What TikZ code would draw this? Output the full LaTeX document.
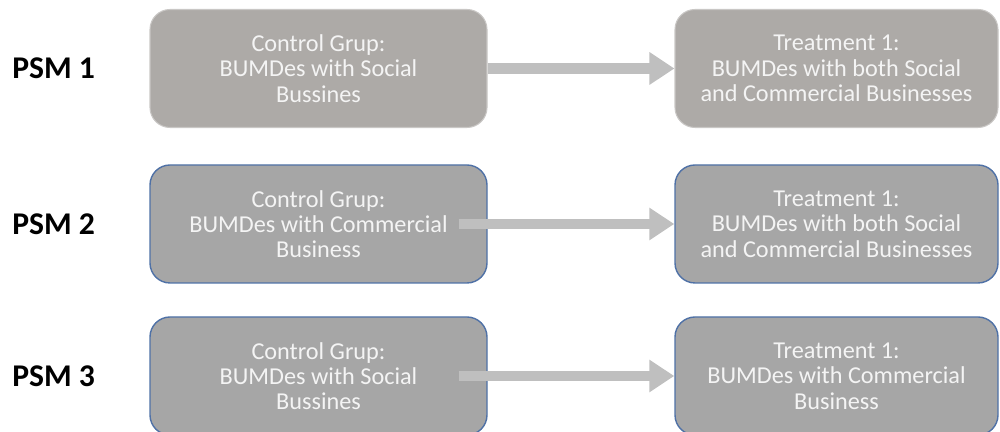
\documentclass[tikz,border=0pt]{standalone}
\usepackage{fontspec}
\setmainfont{Carlito}
\usetikzlibrary{arrows.meta}
\definecolor{boxgrey}{HTML}{ADAAA7}
\definecolor{boxedge}{HTML}{C9C7C5}
\definecolor{plaingrey}{HTML}{A6A6A6}
\definecolor{blueedge}{HTML}{4F71A6}
\definecolor{arrowgrey}{HTML}{BFBFBF}
\definecolor{textwhite}{HTML}{F4F4F4}
\begin{document}
\begin{tikzpicture}[
  psmlabel/.style={anchor=west, inner sep=0pt, font=\fontsize{18}{21}\selectfont\bfseries},
  groupbox/.style={rounded corners=0.4cm, minimum height=2.36cm, align=center,
    text=textwhite, font=\fontsize{13.8}{14.4}\selectfont},
  ctrlbox/.style={groupbox, minimum width=6.74cm},
  trtbox/.style={groupbox, minimum width=6.46cm},
  greyrow/.style={fill=boxgrey, draw=boxedge, line width=0.6pt},
  bluerow/.style={fill=plaingrey, draw=blueedge, line width=0.8pt},
  bigarrow/.style={draw=arrowgrey, line width=0.21cm,
    -{Triangle[length=5mm, width=6.2mm, fill=arrowgrey]}}
]
  \useasboundingbox (0,0) rectangle (20,8.64);

  % PSM 1
  \node[psmlabel] (psm1) at (0.24,7.27) {PSM 1};
  \node[ctrlbox, greyrow] (ctrl1) at (6.37,7.27) {Control Grup:\\BUMDes with Social\\Bussines};
  \node[trtbox, greyrow] (trt1) at (16.73,7.27) {Treatment 1:\\BUMDes with both Social\\and Commercial Businesses};
  \draw[bigarrow] (ctrl1.east) -- (trt1.west);

  % PSM 2
  \node[psmlabel] (psm2) at (0.24,4.16) {PSM 2};
  \node[ctrlbox, bluerow] (ctrl2) at (6.37,4.16) {Control Grup:\\BUMDes with Commercial\\Business};
  \node[trtbox, bluerow] (trt2) at (16.73,4.16) {Treatment 1:\\BUMDes with both Social\\and Commercial Businesses};
  \draw[bigarrow] ([xshift=-0.58cm]ctrl2.east) -- (trt2.west);

  % PSM 3
  \node[psmlabel] (psm3) at (0.24,1.12) {PSM 3};
  \node[ctrlbox, bluerow] (ctrl3) at (6.37,1.12) {Control Grup:\\BUMDes with Social\\Bussines};
  \node[trtbox, bluerow] (trt3) at (16.73,1.12) {Treatment 1:\\BUMDes with Commercial\\Business};
  \draw[bigarrow] ([xshift=-0.58cm]ctrl3.east) -- (trt3.west);
\end{tikzpicture}
\end{document}
